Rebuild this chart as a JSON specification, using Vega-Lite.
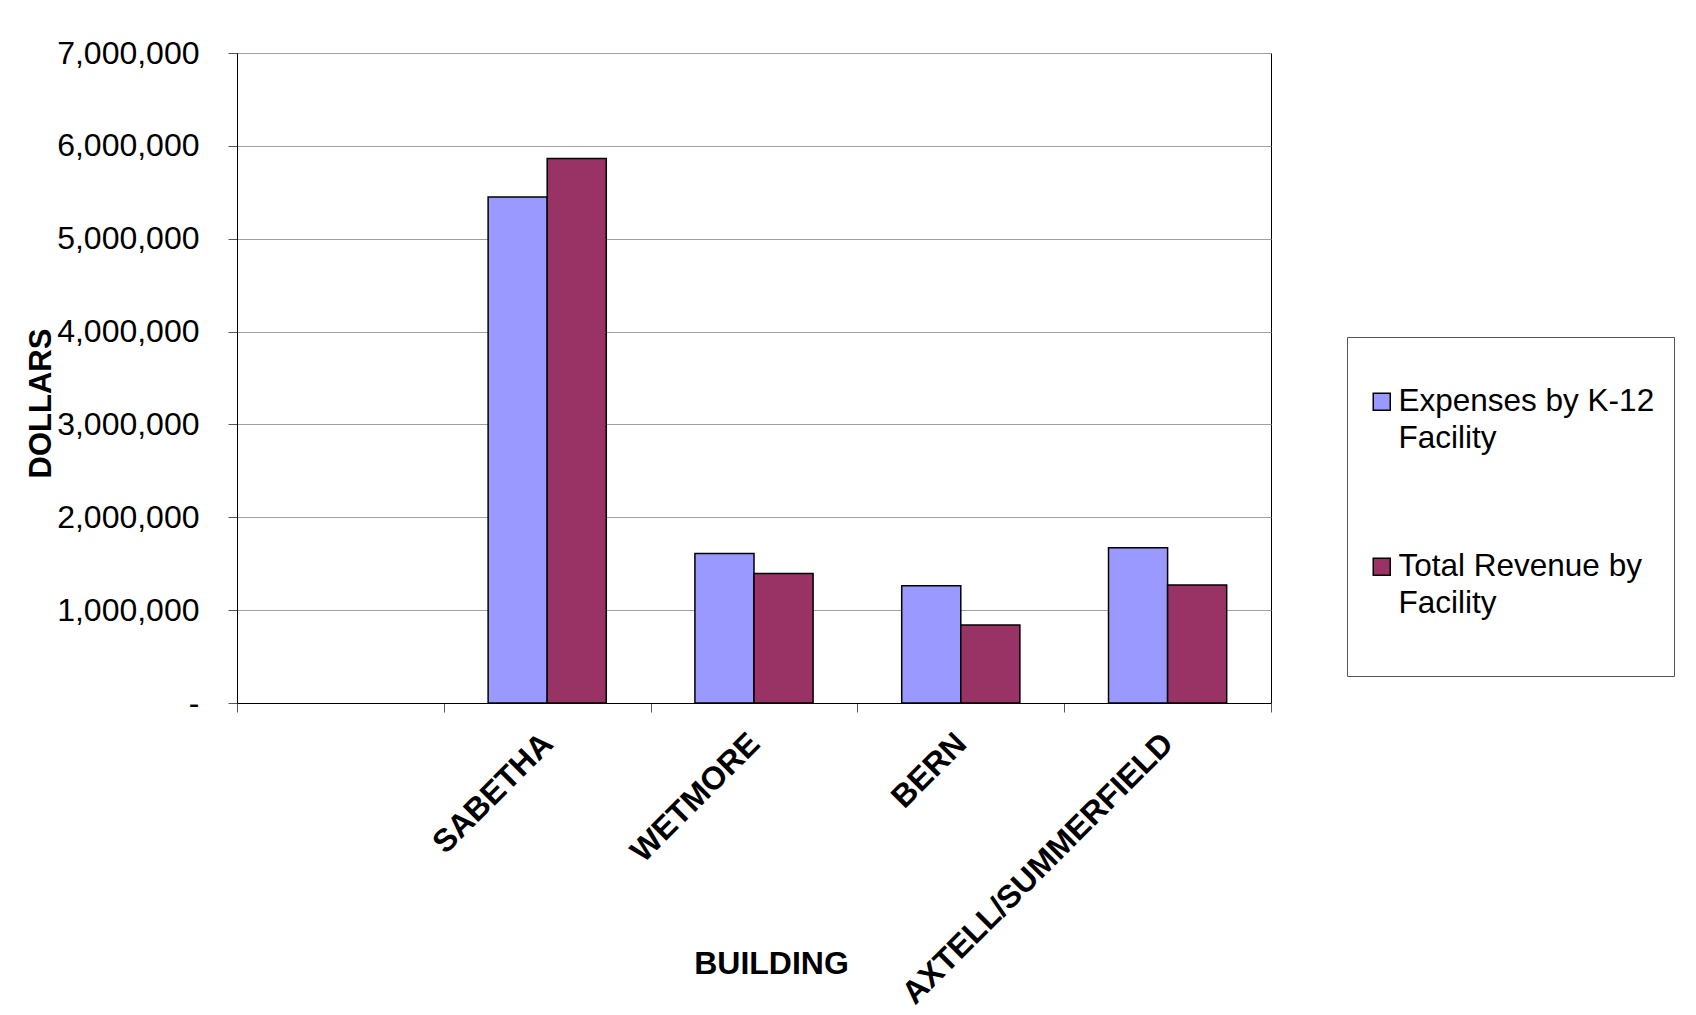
{
  "$schema": "https://vega.github.io/schema/vega-lite/v6.json",
  "width": 1034,
  "height": 650,
  "autosize": {"type": "none"},
  "padding": {"left": 237, "top": 53, "right": 425, "bottom": 312},
  "background": "white",
  "config": {
    "font": "Liberation Sans",
    "view": {"stroke": "#000000", "strokeWidth": 1}
  },
  "data": {
    "values": [
      {"building": "SABETHA", "series": "Expenses by K-12 Facility", "value": 5450000},
      {"building": "SABETHA", "series": "Total Revenue by Facility", "value": 5865000},
      {"building": "WETMORE", "series": "Expenses by K-12 Facility", "value": 1610000},
      {"building": "WETMORE", "series": "Total Revenue by Facility", "value": 1395000},
      {"building": "BERN", "series": "Expenses by K-12 Facility", "value": 1263000},
      {"building": "BERN", "series": "Total Revenue by Facility", "value": 840000},
      {"building": "AXTELL/SUMMERFIELD", "series": "Expenses by K-12 Facility", "value": 1671000},
      {"building": "AXTELL/SUMMERFIELD", "series": "Total Revenue by Facility", "value": 1272000}
    ]
  },
  "mark": {"type": "bar", "stroke": "#000000", "strokeWidth": 1.5},
  "encoding": {
    "x": {
      "field": "building",
      "type": "nominal",
      "sort": null,
      "scale": {
        "domain": [" ", "SABETHA", "WETMORE", "BERN", "AXTELL/SUMMERFIELD"],
        "paddingInner": 0,
        "paddingOuter": 0
      },
      "axis": {
        "title": "BUILDING",
        "titleFont": "Liberation Sans",
        "titleFontSize": 32,
        "titleFontWeight": "bold",
        "titleColor": "#000000",
        "titleX": 534,
        "titleY": 260,
        "titleBaseline": "middle",
        "titleAnchor": null,
        "labelAngle": -45,
        "labelAlign": "right",
        "labelBaseline": "middle",
        "labelFontSize": 32,
        "labelFontWeight": "bold",
        "labelColor": "#000000",
        "labelPadding": 26,
        "labelLimit": 600,
        "labelOverlap": false,
        "tickBand": "extent",
        "tickSize": 9,
        "tickColor": "#555555",
        "domainColor": "#000000",
        "grid": false
      }
    },
    "xOffset": {"field": "series", "type": "nominal", "scale": {"paddingInner": 0, "paddingOuter": 0.75}},
    "y": {
      "field": "value",
      "type": "quantitative",
      "scale": {"domain": [0, 7000000], "nice": false, "zero": true},
      "axis": {
        "title": "DOLLARS",
        "titleFont": "Liberation Sans",
        "titleFontSize": 31,
        "titleFontWeight": "bold",
        "titleColor": "#000000",
        "titleAngle": -90,
        "titleX": -196,
        "titleY": 350,
        "titleBaseline": "middle",
        "titleAlign": "center",
        "values": [0, 1000000, 2000000, 3000000, 4000000, 5000000, 6000000, 7000000],
        "labelExpr": "datum.value == 0 ? '-' : format(datum.value, ',')",
        "labelFontSize": 32,
        "labelColor": "#000000",
        "labelPadding": 29,
        "tickSize": 9,
        "tickColor": "#555555",
        "domainColor": "#000000",
        "grid": true,
        "gridColor": "#a0a0a0",
        "gridWidth": 1
      }
    },
    "color": {
      "field": "series",
      "type": "nominal",
      "scale": {
        "domain": ["Expenses by K-12 Facility", "Total Revenue by Facility"],
        "range": ["#9999FF", "#993366"]
      },
      "legend": {
        "title": " ",
        "titleFontSize": 2,
        "titlePadding": 28,
        "orient": "none",
        "legendX": 1110,
        "legendY": 284,
        "padding": 19,
        "strokeColor": "#555555",
        "fillColor": "#ffffff",
        "symbolType": "square",
        "symbolSize": 289,
        "symbolStrokeColor": "#000000",
        "symbolStrokeWidth": 1.5,
        "symbolOpacity": 1,
        "labelFontSize": 31.5,
        "labelColor": "#000000",
        "labelLimit": 500,
        "labelOffset": 1,
        "labelBaseline": "middle",
        "rowPadding": 95,
        "labelExpr": "datum.label == 'Expenses by K-12 Facility' ? ['Expenses by K-12 ', 'Facility'] : ['Total Revenue by', 'Facility', '']",
        "encode": {
          "labels": {"update": {"lineHeight": {"value": 37}}}
        }
      }
    }
  }
}
